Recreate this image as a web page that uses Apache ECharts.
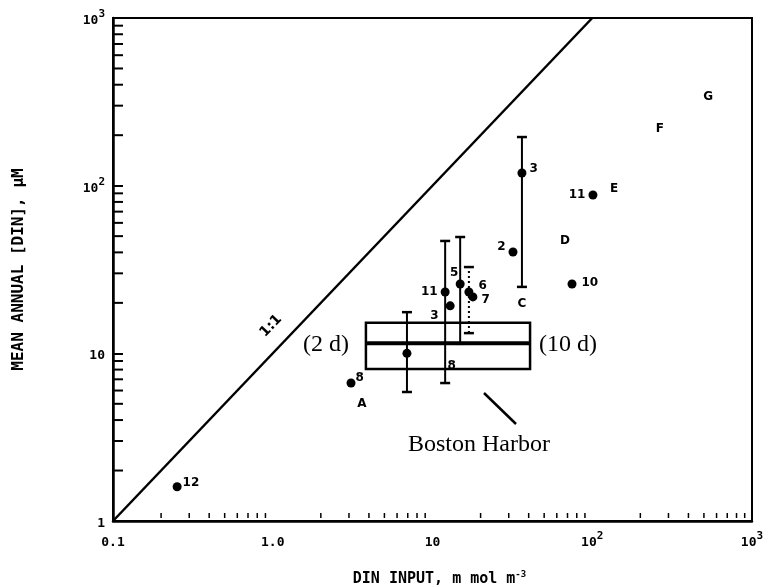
<!DOCTYPE html>
<html><head><meta charset="utf-8">
<script src="https://cdn.jsdelivr.net/npm/echarts@6/dist/echarts.min.js"></script>
<style>html,body{margin:0;padding:0;background:#fff}#c{width:777px;height:587px}</style>
</head><body><div id="c"></div>
<script>
// ---- data ----
const pointX = [0.252, 3.09, 6.92, 12.0, 14.9, 16.9, 17.9, 12.9, 31.9, 36.3, 101, 74.7];
const pointY = [1.6, 6.65, 10.0, 23.2, 25.9, 23.2, 21.7, 19.2, 40.2, 119, 88, 25.9];
const pointNames = ['12', '8', '', '11', '5', '6', '7', '3', '2', '3', '11', '10'];

const letterX = [3.62, 36.3, 67.5, 137, 265, 531, 13.2];
const letterY = [4.99, 19.7, 46.8, 95.5, 218, 338, 8.4];
const letterText = ['A', 'C', 'D', 'E', 'F', 'G', '8'];

const errX = [6.92, 12.0, 14.9, 36.3];
const errLow = [5.88, 6.65, 11.4, 24.9];
const errHigh = [17.6, 46.8, 49.4, 195];
const dotErrX = [16.9];
const dotErrLow = [13.2];
const dotErrHigh = [32.7];

const boxX = [3.83, 40.8];
const boxY = [8.06, 11.5, 15.2];

const oneToOneX = [0.1, 100];
const oneToOneY = [1, 1000];

const xMinorTicks = [0.2,0.3,0.4,0.5,0.6,0.7,0.8,0.9,2,3,4,5,6,7,8,9,20,30,40,50,60,70,80,90,200,300,400,500,600,700,800,900];
const yMinorTicks = [2,3,4,5,6,7,8,9,20,30,40,50,60,70,80,90,200,300,400,500,600,700,800,900];
const xTickLabels = {0.1: '{b|0.1}', 1: '{b|1.0}', 10: '{b|10}', 100: '{b|10}{s|2}', 1000: '{b|10}{s|3}'};
const yTickLabels = {1: '{b|1}', 10: '{b|10}', 100: '{b|10}{s|2}', 1000: '{b|10}{s|3}'};

// ---- label placement styles (not data) ----
const labelStyle = {
  '12': {position: 'right', offset: [-2, -4]},
  '8': {position: 'right', offset: [-3, -5]},
  '11': {position: 'left', offset: [0, 0]},
  '5': {position: 'top', offset: [-6, 2]},
  '6': {position: 'right', offset: [2, -6]},
  '7': {position: 'right', offset: [1, 3]},
  '3': {position: 'left', offset: [-4, 10]},
  '2': {position: 'left', offset: [0, -5]},
  '10': {position: 'right', offset: [2, -1]}
};
const labelStyleByIndex = {9: {position: 'right', offset: [0, -4]}};

const FONT_MONO = '"DejaVu Sans Mono", monospace';
const FONT_SANS = '"DejaVu Sans", sans-serif';
const FONT_SERIF = '"Liberation Serif", "DejaVu Serif", serif';

const pointData = pointX.map((x, i) => {
  const st = labelStyleByIndex[i] || labelStyle[pointNames[i]] || {position: 'right', offset: [0, 0]};
  return {value: [x, pointY[i]], name: pointNames[i], label: {show: pointNames[i] !== '', position: st.position, offset: st.offset}};
});

const richAxis = {
  b: {fontFamily: FONT_MONO, fontWeight: 'bold', fontSize: 13, color: '#000', lineHeight: 18, verticalAlign: 'bottom'},
  s: {fontFamily: FONT_MONO, fontWeight: 'bold', fontSize: 11, color: '#000', lineHeight: 18, verticalAlign: 'top'}
};

function errRender(dashed) {
  return function (params, api) {
    const x = api.value(0);
    const lo = api.coord([x, api.value(1)]);
    const hi = api.coord([x, api.value(2)]);
    const style = {stroke: '#000', lineWidth: 2, lineDash: dashed ? [2, 3] : null};
    return {type: 'group', children: [
      {type: 'line', shape: {x1: lo[0], y1: lo[1], x2: hi[0], y2: hi[1]}, style},
      {type: 'line', shape: {x1: hi[0] - 5, y1: hi[1], x2: hi[0] + 5, y2: hi[1]}, style: {stroke: '#000', lineWidth: 2.5}},
      {type: 'line', shape: {x1: lo[0] - 5, y1: lo[1], x2: lo[0] + 5, y2: lo[1]}, style: {stroke: '#000', lineWidth: 2.5}}
    ]};
  };
}

const chart = echarts.init(document.getElementById('c'), null, {renderer: 'canvas'});
chart.setOption({
  animation: false,
  backgroundColor: '#fff',
  grid: {left: 113, right: 25, top: 18, bottom: 66, show: true, borderColor: '#000', borderWidth: 2,
    containLabel: false, outerBoundsMode: 'none'},
  xAxis: {
    type: 'log', logBase: 10, min: 0.1, max: 1000,
    name: 'DIN INPUT, m mol m{sup|-3}', nameLocation: 'middle', nameGap: 49,
    nameTextStyle: {fontFamily: FONT_MONO, fontWeight: 'bold', fontSize: 15, color: '#000', padding: [0, 0, 0, 14],
      rich: {sup: {fontFamily: FONT_MONO, fontWeight: 'bold', fontSize: 9, color: '#000', padding: [0, 0, 9, 0]}}},
    axisLine: {lineStyle: {color: '#000', width: 2.5}},
    axisTick: {show: false},
    splitLine: {show: false},
    axisLabel: {margin: 10, color: '#000',
      formatter: v => xTickLabels[+v.toPrecision(3)] || '', rich: richAxis}
  },
  yAxis: {
    type: 'log', logBase: 10, min: 1, max: 1000,
    name: 'MEAN ANNUAL [DIN], μM', nameLocation: 'middle', nameGap: 86, nameRotate: 90,
    nameTextStyle: {fontFamily: FONT_MONO, fontWeight: 'bold', fontSize: 16, color: '#000'},
    axisLine: {lineStyle: {color: '#000', width: 2.5}},
    axisTick: {show: true, inside: true, length: 10, lineStyle: {color: '#000', width: 2}},
    splitLine: {show: false},
    axisLabel: {margin: 8, color: '#000',
      formatter: v => yTickLabels[+v.toPrecision(3)] || '', rich: richAxis}
  },
  series: [
    {type: 'line', data: oneToOneX.map((x, i) => [x, oneToOneY[i]]), symbol: 'none',
      lineStyle: {color: '#000', width: 2.5}, silent: true},
    {type: 'custom', clip: false, data: yMinorTicks.map(v => [0.1, v]),
      renderItem: (p, api) => { const c = api.coord([api.value(0), api.value(1)]);
        return {type: 'line', shape: {x1: c[0], y1: c[1], x2: c[0] + 10, y2: c[1]}, style: {stroke: '#000', lineWidth: 2}}; }},
    {type: 'custom', clip: false, data: xMinorTicks.map(v => [v, 1]),
      renderItem: (p, api) => { const c = api.coord([api.value(0), api.value(1)]);
        return {type: 'line', shape: {x1: c[0], y1: c[1] - 3, x2: c[0], y2: c[1] - 8}, style: {stroke: '#000', lineWidth: 1.5}}; }},
    {type: 'custom', data: [[boxX[0], boxX[1], boxY[0], boxY[1], boxY[2]]],
      renderItem: (p, api) => {
        const a = api.coord([api.value(0), api.value(4)]);
        const b = api.coord([api.value(1), api.value(2)]);
        const m1 = api.coord([api.value(0), api.value(3)]);
        const m2 = api.coord([api.value(1), api.value(3)]);
        return {type: 'group', children: [
          {type: 'rect', shape: {x: a[0], y: a[1], width: b[0] - a[0], height: b[1] - a[1]}, style: {fill: 'none', stroke: '#000', lineWidth: 2.5}},
          {type: 'line', shape: {x1: m1[0], y1: m1[1], x2: m2[0], y2: m2[1]}, style: {stroke: '#000', lineWidth: 4}}
        ]};
      }},
    {type: 'custom', data: errX.map((x, i) => [x, errLow[i], errHigh[i]]), renderItem: errRender(false)},
    {type: 'custom', data: dotErrX.map((x, i) => [x, dotErrLow[i], dotErrHigh[i]]), renderItem: errRender(true)},
    {type: 'scatter', data: pointData, symbol: 'circle', symbolSize: 9,
      itemStyle: {color: '#000', opacity: 1},
      label: {color: '#000', fontFamily: FONT_SANS, fontWeight: 'bold', fontSize: 12, formatter: p => p.name, distance: 3}},
    {type: 'scatter', data: letterX.map((x, i) => ({value: [x, letterY[i]], name: letterText[i]})),
      symbol: 'circle', symbolSize: 1, itemStyle: {color: '#fff', opacity: 1},
      label: {show: true, position: 'inside', color: '#000', fontFamily: FONT_SANS, fontWeight: 'bold', fontSize: 12,
        textBorderWidth: 0, formatter: p => p.name}}
  ],
  graphic: [
    {type: 'text', left: 303, top: 333, style: {text: '(2 d)', font: '24px ' + FONT_SERIF, fill: '#000'}},
    {type: 'text', left: 539, top: 333, style: {text: '(10 d)', font: '24px ' + FONT_SERIF, fill: '#000'}},
    {type: 'text', left: 408, top: 433, style: {text: 'Boston Harbor', font: '24px ' + FONT_SERIF, fill: '#000'}},
    {type: 'line', shape: {x1: 484, y1: 393, x2: 516, y2: 424}, style: {stroke: '#000', lineWidth: 2.5}},
    {type: 'text', x: 271, y: 326, rotation: 0.81, style: {text: '1:1', font: 'bold 14px ' + FONT_SANS, fill: '#000', textAlign: 'center', textVerticalAlign: 'middle'}}
  ]
});
</script></body></html>
